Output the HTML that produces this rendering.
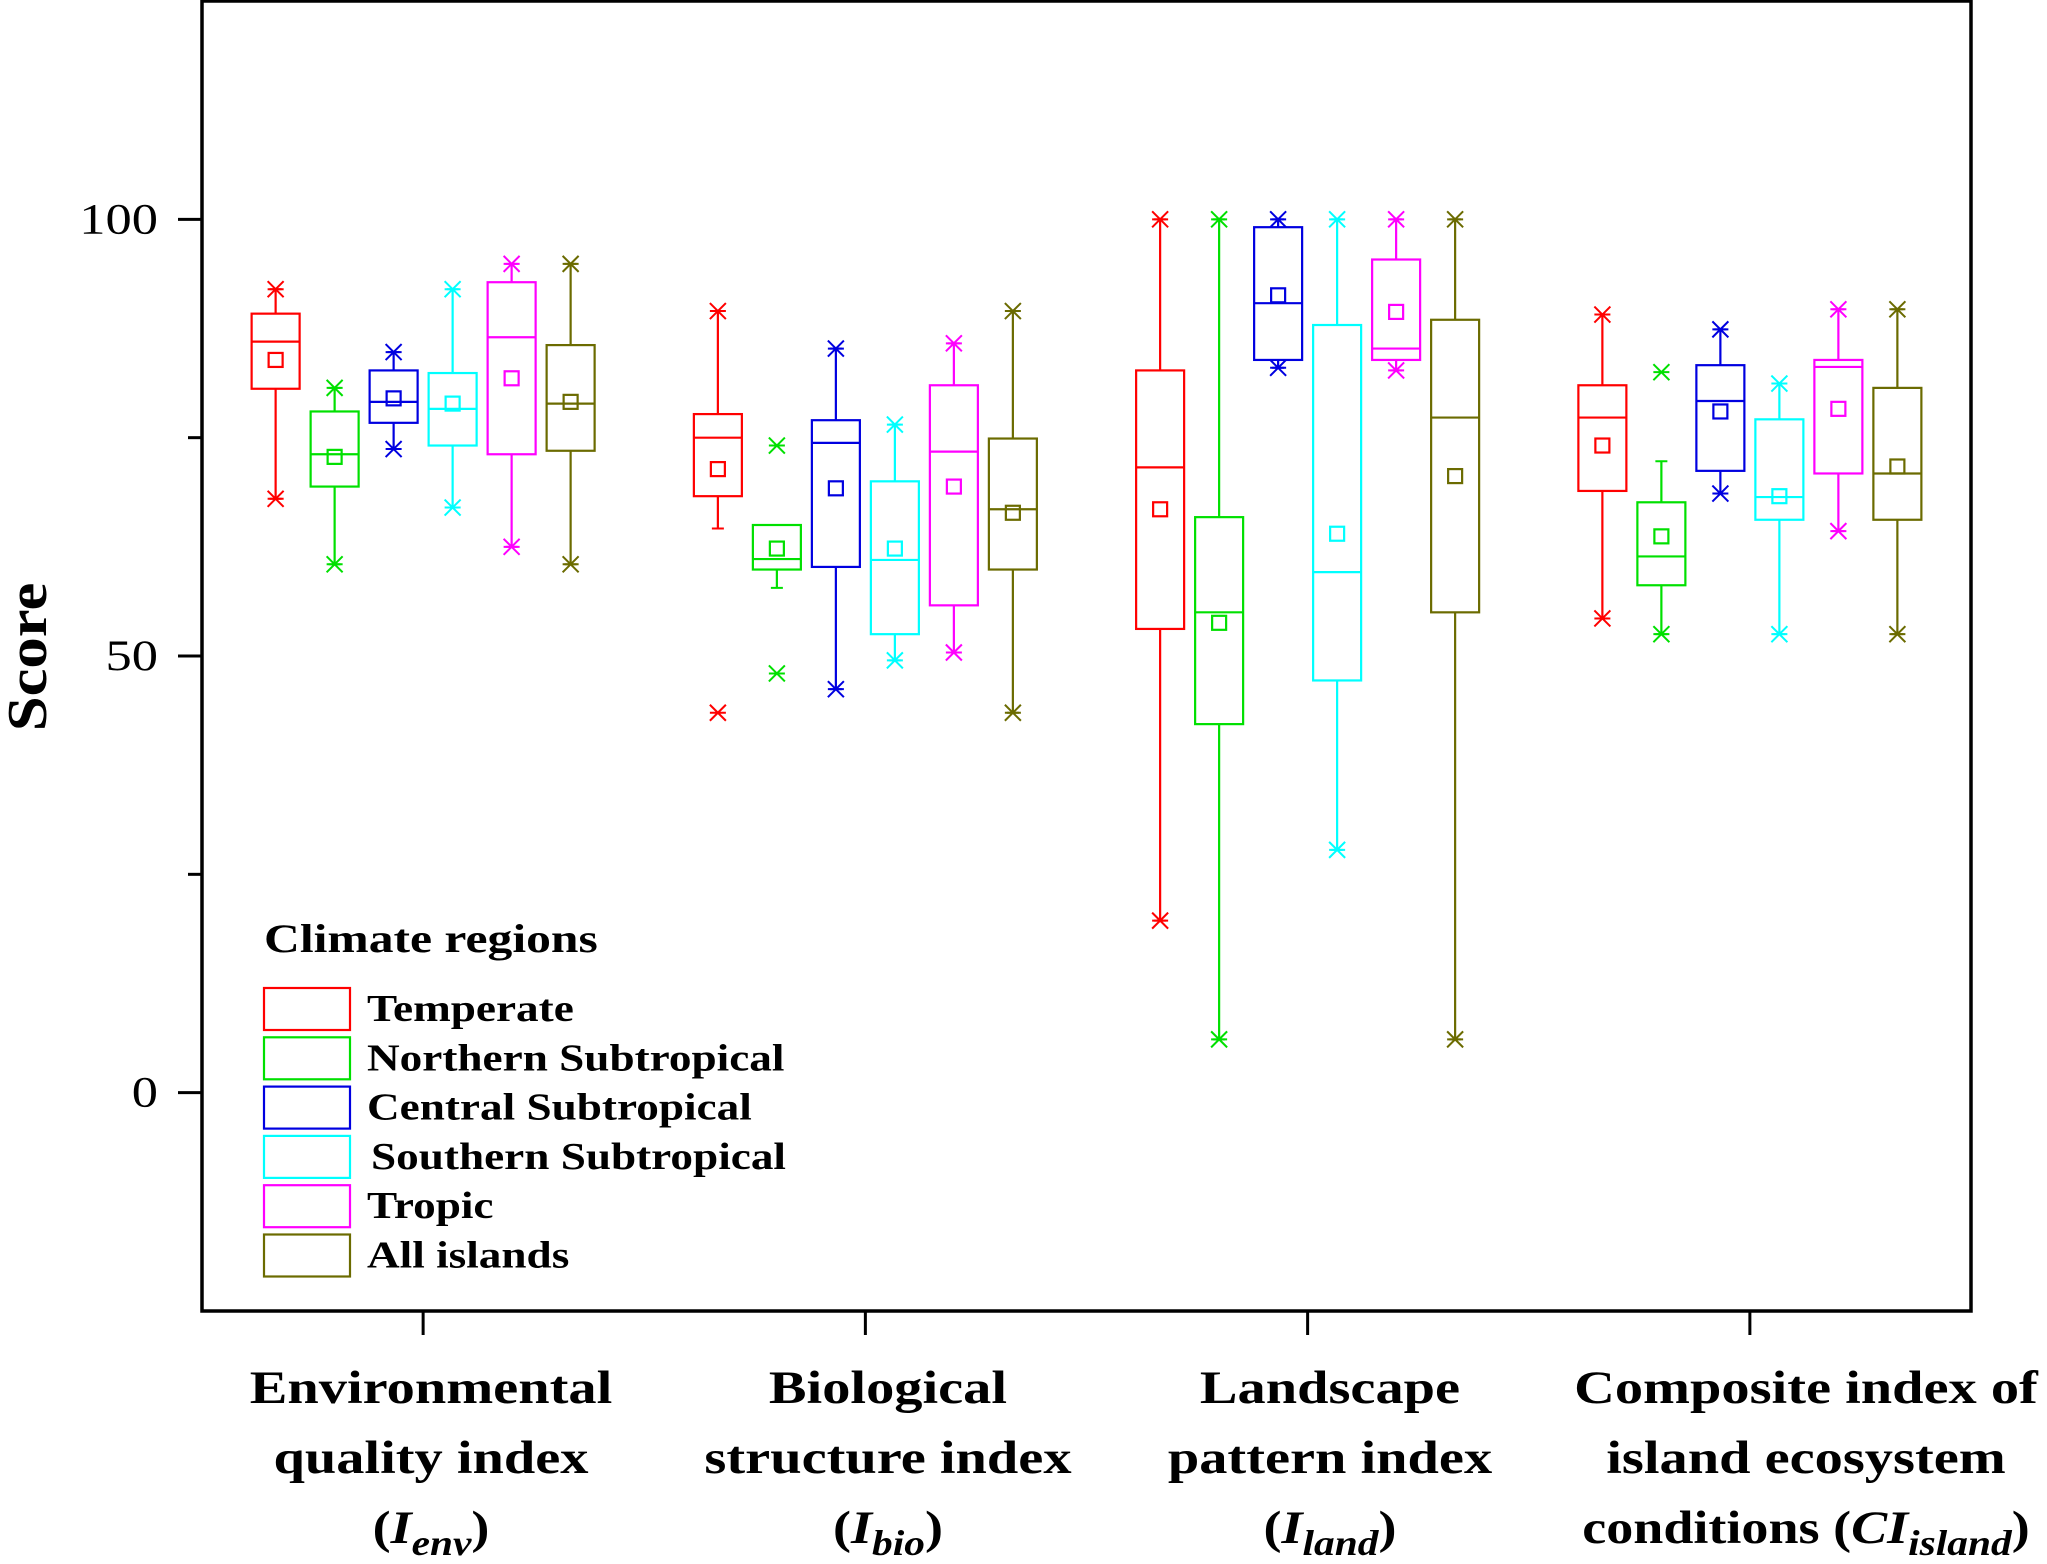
<!DOCTYPE html>
<html><head><meta charset="utf-8"><style>
html,body{margin:0;padding:0;background:#fff;}
svg{display:block;font-family:"Liberation Serif",serif;}
</style></head><body>
<svg id="chart" width="2047" height="1564" viewBox="0 0 2047 1564" xmlns="http://www.w3.org/2000/svg">
<g id="axes"></g>
<g id="marks"></g>
<g id="legend"></g>
</svg>
<script>
const categories = ["Ienv","Ibio","Iland","CIisland"];
const series = ["Temperate","Northern Subtropical","Central Subtropical","Southern Subtropical","Tropic","All islands"];
const colors = ["#ff0000","#00e000","#0000e0","#00ffff","#ff00ff","#6b6b00"];
const yTicks = [0,50,100];
const yMinor = [25,75];
const maxMark = [[92,89.5,100,89.1],[80.7,74.1,100,82.5],[84.8,85.2,100,87.4],[92,76.5,100,81.2],[94.9,85.8,100,89.7],[94.9,89.5,100,89.7]];
const whiskHi  = [[92,89.5,100,89.1],[80.7,65,100,72.3],[84.8,85.2,100,87.4],[92,76.5,100,81.2],[94.9,85.8,100,89.7],[94.9,89.5,100,89.7]];
const q3       = [[89.2,77.7,82.7,81],[78,65,65.9,67.6],[82.7,77,99.1,83.3],[82.4,70,87.9,77.1],[92.8,81,95.4,83.9],[85.6,74.9,88.5,80.7]];
const median   = [[86,75,71.6,77.3],[73.1,61.1,55,61.4],[79.1,74.4,90.4,79.2],[78.3,61,59.6,68.2],[86.5,73.4,85.2,83.1],[78.9,66.8,77.3,70.9]];
const mean     = [[83.9,71.4,66.8,74.1],[72.8,62.3,53.8,63.7],[79.5,69.2,91.3,78],[78.9,62.3,64,68.3],[81.8,69.4,89.4,78.3],[79.1,66.4,70.6,71.7]];
const q1       = [[80.6,68.3,53.1,68.9],[69.4,59.9,42.2,58.1],[76.7,60.2,83.9,71.2],[74.1,52.5,47.2,65.6],[73.1,55.8,83.9,70.9],[73.5,59.9,55,65.6]];
const whiskLo  = [[68,64.6,19.7,54.3],[60.5,57.8,6.1,52.5],[73.7,46.2,83,68.6],[67,49.5,27.8,52.5],[62.5,50.4,82.7,64.3],[60.5,43.5,6.1,52.5]];
const minMark  = [[68,43.5,19.7,54.3],[60.5,48,6.1,52.5],[73.7,46.2,83,68.6],[67,49.5,27.8,52.5],[62.5,50.4,82.7,64.3],[60.5,43.5,6.1,52.5]];

const NS="http://www.w3.org/2000/svg";
const L=202,R=1971,T=1,B=1311, yMin=-25,yMax=125;
const y = v => B - (v - yMin)/(yMax - yMin)*(B - T);
const cx = c => L + (c + 0.5)*(R-L)/4;
const off = 59, bw = 48;
function el(tag, attrs, parent){const e=document.createElementNS(NS,tag);for(const k in attrs)e.setAttribute(k,attrs[k]);parent.appendChild(e);return e;}
const axes=document.getElementById('axes'), marks=document.getElementById('marks'), leg=document.getElementById('legend');
const stretch=[];

const frame = el('rect',{x:L,y:T,width:R-L,height:B-T,fill:'none',stroke:'#000','stroke-width':3.5},axes);


yTicks.forEach(v=>{
  const t=el('line',{x1:L-24,x2:L,y1:y(v),y2:y(v),stroke:'#000','stroke-width':3},axes);
  
  
  const lb=el('text',{x:L-44,y:y(v)+14,'font-size':43,'text-anchor':'end'},axes);
  lb.textContent=v;
  
  
  stretch.push([lb,1.22]);
});
yMinor.forEach(v=>{
  const t=el('line',{x1:L-14,x2:L,y1:y(v),y2:y(v),stroke:'#000','stroke-width':3},axes);
  
  
});
const yt=el('text',{x:0,y:0,'font-size':56,'font-weight':'bold','text-anchor':'middle',transform:'translate(46,657) rotate(-90)'},axes);
yt.textContent='Score';


stretch.push([yt,1.12]);
categories.forEach((c,i)=>{
  const t=el('line',{x1:cx(i),x2:cx(i),y1:B,y2:B+24,stroke:'#000','stroke-width':3},axes);
  
  
});
const xl=[
 {c:431,l:['Environmental','quality index'],s:['I','env','']},
 {c:888,l:['Biological','structure index'],s:['I','bio','']},
 {c:1330,l:['Landscape','pattern index'],s:['I','land','']},
 {c:1806,l:['Composite index of','island ecosystem'],s:['CI','island','conditions ']}
];
xl.forEach((d,i)=>{
  const g=el('g',{},axes);
  
  
  d.l.forEach((ln,j)=>{const t=el('text',{x:d.c,y:1403+j*70,'font-size':47,'font-weight':'bold','text-anchor':'middle'},g);t.textContent=ln;stretch.push([t,1.2]);});
  const t=el('text',{x:d.c,y:1543,'font-size':47,'font-weight':'bold','text-anchor':'middle'},g);
  if(d.s[2]){const a=el('tspan',{},t);a.textContent=d.s[2];}
  const p=el('tspan',{},t);p.textContent='(';
  const a=el('tspan',{'font-style':'italic'},t);a.textContent=d.s[0];
  const b=el('tspan',{'font-style':'italic','font-size':36,dy:12},t);b.textContent=d.s[1];
  const e=el('tspan',{dy:-12},t);e.textContent=')';
  stretch.push([t,1.15]);
});

function star(g,X,Y,col){
  const s=8;
  el('path',{d:`M${X-s},${Y-s}L${X+s},${Y+s}M${X-s},${Y+s}L${X+s},${Y-s}M${X-s},${Y}L${X+s},${Y}`,stroke:col,'stroke-width':2,fill:'none'},g);
}
series.forEach((s,si)=>{
  categories.forEach((c,ci)=>{
    const X=cx(ci)+(si-2.5)*off, col=colors[si];
    const g=el('g',{},marks);
    
    
    el('line',{x1:X,x2:X,y1:y(whiskHi[si][ci]),y2:y(q3[si][ci]),stroke:col,'stroke-width':2.2},g);
    el('line',{x1:X,x2:X,y1:y(q1[si][ci]),y2:y(whiskLo[si][ci]),stroke:col,'stroke-width':2.2},g);
    el('line',{x1:X-6,x2:X+6,y1:y(whiskHi[si][ci]),y2:y(whiskHi[si][ci]),stroke:col,'stroke-width':2},g);
    el('line',{x1:X-6,x2:X+6,y1:y(whiskLo[si][ci]),y2:y(whiskLo[si][ci]),stroke:col,'stroke-width':2},g);
    el('rect',{x:X-bw/2,y:y(q3[si][ci]),width:bw,height:y(q1[si][ci])-y(q3[si][ci]),fill:'none',stroke:col,'stroke-width':2.2},g);
    el('line',{x1:X-bw/2,x2:X+bw/2,y1:y(median[si][ci]),y2:y(median[si][ci]),stroke:col,'stroke-width':2.2},g);
    el('rect',{x:X-7,y:y(mean[si][ci])-7,width:14,height:14,fill:'none',stroke:col,'stroke-width':2.2},g);
    star(g,X,y(maxMark[si][ci]),col);
    star(g,X,y(minMark[si][ci]),col);
  });
});
const lt=el('text',{x:264,y:952,'font-size':40,'font-weight':'bold'},leg);
lt.textContent='Climate  regions';


stretch.push([lt,1.24]);
series.forEach((s,i)=>{
  const g=el('g',{},leg);
  
  
  const cy=1009+i*49.3;
  el('rect',{x:264,y:cy-21,width:86,height:42,fill:'none',stroke:colors[i],'stroke-width':2.2},g);
  const t=el('text',{x:i==3?371:367,y:cy+12,'font-size':38,'font-weight':'bold'},g);
  t.textContent=s;
  stretch.push([t,1.19]);
});
stretch.forEach(([t,f])=>{
  const w=t.getComputedTextLength();
  t.setAttribute('textLength',(w*f).toFixed(1));
  t.setAttribute('lengthAdjust','spacingAndGlyphs');
});
</script>
</body></html>
